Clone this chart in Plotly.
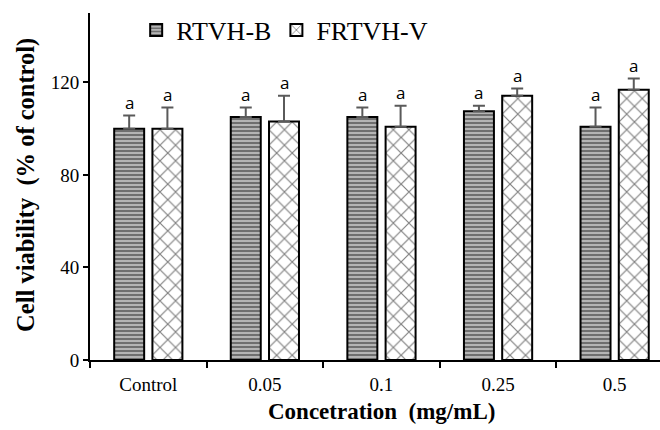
import plotly.graph_objects as go

categories = ["Control", "0.05", "0.1", "0.25", "0.5"]
series_names = ["RTVH-B", "FRTVH-V"]
rtvh_b = [100.0, 105.0, 105.0, 107.5, 100.8]
rtvh_b_err = [5.7, 4.2, 4.2, 2.4, 8.4]
frtvh_v = [100.0, 103.1, 100.8, 114.2, 116.8]
frtvh_v_err = [9.2, 11.1, 9.1, 3.2, 4.9]
letters_b = ["a", "a", "a", "a", "a"]
letters_v = ["a", "a", "a", "a", "a"]
y_ticks = [0, 40, 80, 120]

SERIF = "Liberation Serif"
BARGAP = 0.344
BARGROUPGAP = 0.216

fig = go.Figure()
fig.add_trace(go.Bar(
    x=categories, y=rtvh_b, name=series_names[0],
    marker=dict(color="#a8a8a8", line=dict(color="black", width=2),
                pattern=dict(shape="-", fgcolor="#1a1a1a", bgcolor="#b4b4b4",
                             size=4, solidity=0.45)),
    error_y=dict(type="data", symmetric=False, array=rtvh_b_err,
                 arrayminus=[0] * len(rtvh_b_err), color="#5a5a5a",
                 thickness=2, width=6),
))
fig.add_trace(go.Bar(
    x=categories, y=frtvh_v, name=series_names[1],
    marker=dict(color="white", line=dict(color="black", width=2),
                pattern=dict(shape="x", fgcolor="black", bgcolor="white",
                             size=11, solidity=0.2)),
    error_y=dict(type="data", symmetric=False, array=frtvh_v_err,
                 arrayminus=[0] * len(frtvh_v_err), color="#5a5a5a",
                 thickness=2, width=6),
))

# letters above error bars
slot = (1 - BARGAP) / 2
offsets = [-slot / 2, slot / 2]
for s, (vals, errs, letters) in enumerate([(rtvh_b, rtvh_b_err, letters_b),
                                           (frtvh_v, frtvh_v_err, letters_v)]):
    for i, (v, e, t) in enumerate(zip(vals, errs, letters)):
        fig.add_annotation(x=i + offsets[s], y=v + e, xref="x", yref="y",
                           text=t, showarrow=False, yanchor="middle", yshift=13,
                           font=dict(family="Open Sans", size=17, color="black"))

# axis titles
fig.add_annotation(x=(len(categories) - 1) / 2, xref="x", y=-0.147, yref="paper",
                   text="<b>Concetration  (mg/mL)</b>", showarrow=False,
                   xanchor="center", yanchor="middle",
                   font=dict(family=SERIF, size=23, color="black"))
fig.add_annotation(x=-0.112, xref="paper", y=0.505, yref="paper",
                   text="<b>Cell viability  (% of control)</b>", showarrow=False,
                   textangle=-90, xanchor="center", yanchor="middle",
                   font=dict(family=SERIF, size=24.5, color="black"))

fig.update_layout(
    width=660, height=430,
    margin=dict(l=90, r=0, t=13, b=70, autoexpand=False),
    paper_bgcolor="white", plot_bgcolor="white",
    barmode="group", bargap=BARGAP, bargroupgap=BARGROUPGAP,
    showlegend=True,
    legend=dict(orientation="h", xref="paper", yref="paper",
                x=0.081, y=0.951, xanchor="left", yanchor="middle",
                font=dict(family=SERIF, size=26, color="black"),
                bgcolor="rgba(0,0,0,0)", itemwidth=30),
    xaxis=dict(type="category", range=[-0.5, 4.389], tickson="boundaries",
               showline=True, linecolor="black", linewidth=2,
               ticks="outside", ticklen=6, tickwidth=1.5, tickcolor="black",
               ticklabelstandoff=6,
               showgrid=False, zeroline=False,
               tickfont=dict(family=SERIF, size=19, color="black")),
    yaxis=dict(range=[0, 150], tickvals=y_ticks, showline=True,
               linecolor="black", linewidth=2, ticks="outside", ticklen=5,
               tickwidth=1.5, tickcolor="black", showgrid=False, zeroline=False,
               tickfont=dict(family=SERIF, size=19, color="black")),
)

fig.write_html("out.html")
